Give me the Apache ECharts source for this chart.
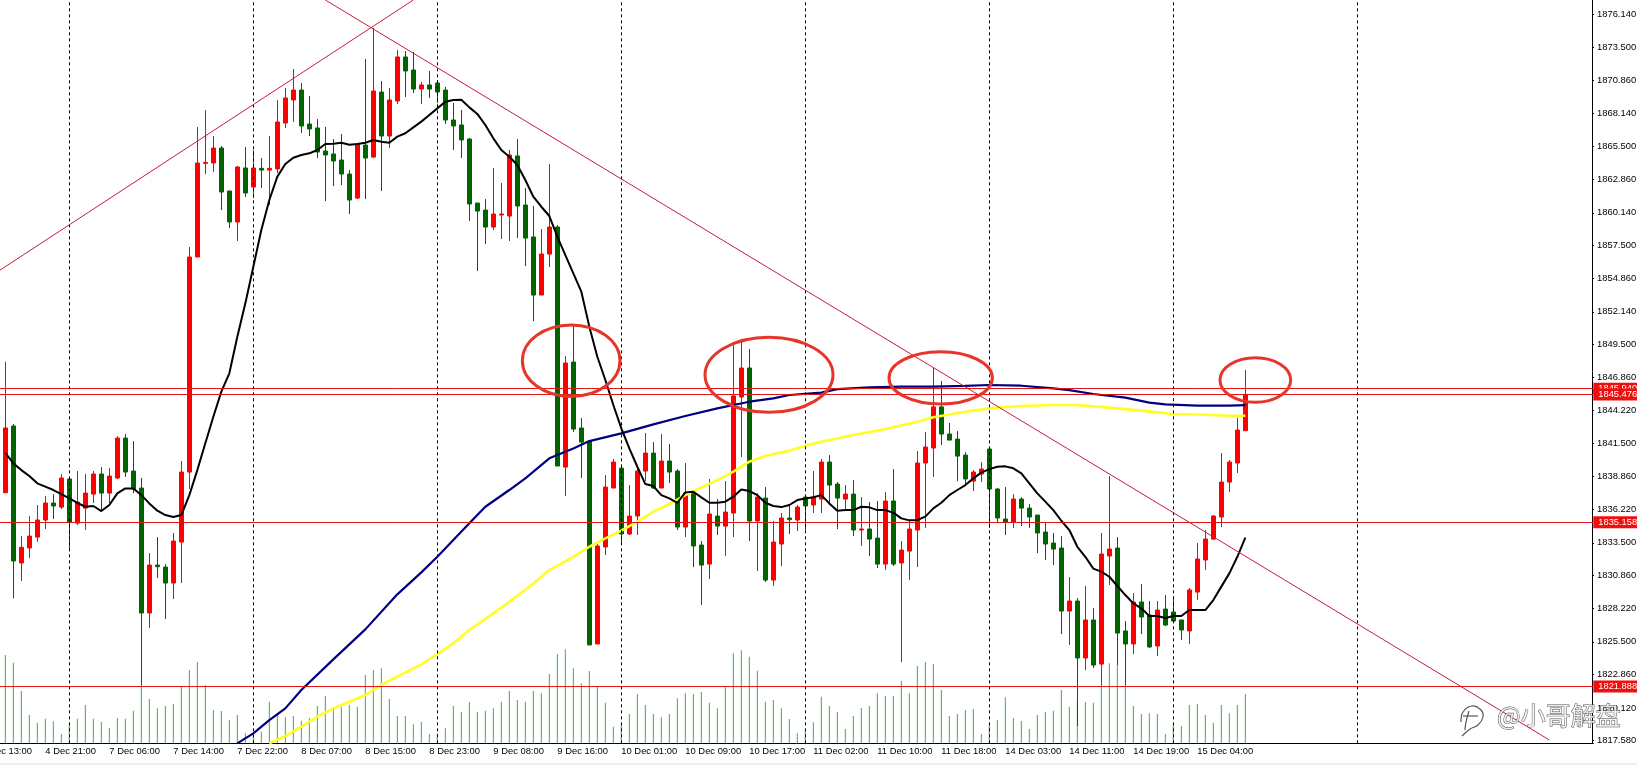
<!DOCTYPE html>
<html>
<head>
<meta charset="utf-8">
<title>XAUUSD H1</title>
<script src="https://cdn.jsdelivr.net/npm/echarts@6/dist/echarts.min.js"></script>
<style>
html,body{margin:0;padding:0;background:#fff;overflow:hidden;}
#chart{width:1637px;height:765px;}
</style>
</head>
<body>
<div id="chart"></div>
<script>
// time axis labels, one every 8 bars (first one starts 3 bars before the first candle)
var timeLabels = ['4 Dec 13:00','4 Dec 21:00','7 Dec 06:00','7 Dec 14:00','7 Dec 22:00','8 Dec 07:00','8 Dec 15:00','8 Dec 23:00','9 Dec 08:00','9 Dec 16:00','10 Dec 01:00','10 Dec 09:00','10 Dec 17:00','11 Dec 02:00','11 Dec 10:00','11 Dec 18:00','14 Dec 03:00','14 Dec 11:00','14 Dec 19:00','15 Dec 04:00'];
var leadBars = 3;
var totalBars = 202;

var priceTicks = [1876.14,1873.5,1870.86,1868.14,1865.5,1862.86,1860.14,1857.5,1854.86,1852.14,1849.5,1846.86,1844.22,1841.5,1838.86,1836.22,1833.5,1830.86,1828.22,1825.5,1822.86,1820.12,1817.58];

// open, close, low, high
var candles = [
[1837.54,1842.77,1837.54,1848.12],[1842.93,1832.03,1829.01,1843.09],[1831.87,1833.13,1830.41,1834.04],[1833.08,1834.04,1832.27,1835.66],
[1833.96,1835.34,1833.56,1836.55],[1835.34,1836.71,1834.61,1837.27],[1836.71,1836.47,1835.42,1837.43],[1836.38,1838.73,1836.22,1839.05],
[1838.65,1835.17,1832.83,1838.81],[1835.09,1836.79,1834.93,1839.29],[1836.30,1837.51,1834.53,1839.05],[1837.43,1839.05,1836.71,1839.29],
[1839.05,1837.51,1836.06,1839.61],[1837.51,1838.89,1836.71,1839.53],[1838.73,1841.95,1838.65,1842.11],[1841.95,1839.21,1838.81,1842.28],
[1839.29,1837.84,1837.51,1841.71],[1837.92,1827.83,1822.02,1838.73],[1827.83,1831.70,1826.62,1832.67],[1831.70,1831.57,1830.66,1833.96],
[1831.54,1830.25,1827.35,1831.78],[1830.25,1833.64,1828.96,1834.29],[1833.56,1839.21,1830.25,1840.10],[1839.21,1856.57,1837.84,1857.38],
[1856.57,1864.16,1856.57,1867.07],[1864.13,1864.21,1863.27,1868.44],[1864.16,1865.37,1863.43,1866.34],[1865.37,1861.82,1860.36,1865.53],
[1861.90,1859.40,1858.91,1861.90],[1859.40,1863.84,1857.86,1863.92],[1863.76,1861.74,1861.42,1865.45],[1862.22,1863.76,1861.33,1865.21],
[1863.73,1863.59,1862.14,1864.56],[1863.59,1863.73,1860.77,1866.34],[1863.68,1867.47,1863.35,1869.25],[1867.39,1869.41,1866.99,1870.22],
[1869.25,1870.05,1867.47,1871.75],[1870.05,1867.15,1866.58,1870.62],[1867.31,1866.91,1866.34,1869.57],[1866.99,1865.05,1864.56,1867.71],
[1865.13,1864.81,1861.09,1867.07],[1864.89,1864.32,1862.30,1866.10],[1864.40,1863.27,1862.38,1866.50],[1863.27,1861.17,1860.04,1863.59],
[1861.33,1865.69,1861.25,1865.77],[1865.61,1864.56,1861.25,1872.56],[1864.64,1869.97,1864.56,1875.06],[1869.89,1866.34,1861.90,1870.78],
[1866.34,1869.25,1865.37,1870.22],[1869.17,1872.72,1868.92,1873.28],[1872.72,1871.59,1869.49,1873.20],[1871.67,1870.13,1869.81,1873.12],
[1870.13,1870.46,1868.92,1870.70],[1870.46,1870.13,1869.41,1871.59],[1870.62,1869.89,1869.00,1870.86],[1870.05,1867.63,1867.31,1870.30],
[1867.63,1867.15,1865.21,1869.00],[1867.23,1866.02,1864.56,1868.44],[1866.10,1860.85,1859.48,1866.18],[1860.93,1860.28,1855.44,1860.93],
[1860.36,1858.99,1857.62,1861.25],[1858.99,1860.04,1858.75,1863.76],[1859.96,1860.04,1858.02,1862.55],[1859.88,1864.81,1857.86,1865.21],
[1864.73,1860.69,1858.10,1866.10],[1860.77,1858.10,1855.84,1862.14],[1858.19,1853.50,1851.40,1860.69],[1853.50,1856.81,1853.50,1858.83],
[1856.81,1858.99,1855.76,1864.08],[1858.99,1839.70,1839.70,1859.15],[1839.61,1848.01,1837.27,1848.58],[1848.09,1842.68,1842.44,1851.00],
[1842.77,1841.63,1838.73,1843.58],[1841.71,1825.25,1825.25,1841.79],[1825.33,1833.24,1825.33,1833.48],[1833.16,1838.00,1832.51,1838.97],
[1837.92,1840.02,1837.92,1840.26],[1839.53,1834.21,1833.32,1839.77],[1834.21,1835.66,1834.13,1838.16],[1835.66,1839.29,1834.13,1839.77],
[1839.29,1840.74,1838.48,1842.36],[1840.74,1837.92,1837.84,1841.63],[1837.92,1840.10,1837.92,1842.28],[1840.10,1839.21,1838.32,1841.47],
[1839.29,1834.77,1834.53,1839.45],[1834.77,1837.51,1833.96,1839.94],[1837.51,1833.24,1831.54,1837.76],[1833.32,1831.70,1828.48,1833.64],
[1831.78,1835.82,1830.57,1838.65],[1835.66,1834.85,1834.13,1837.03],[1834.85,1835.98,1832.43,1838.48],[1835.90,1845.35,1833.96,1849.47],
[1845.27,1847.61,1840.42,1849.71],[1847.61,1835.26,1833.64,1849.15],[1835.26,1837.19,1831.22,1837.51],[1837.11,1830.49,1830.33,1838.00],
[1830.49,1833.56,1830.01,1835.26],[1833.40,1835.50,1831.62,1835.90],[1835.50,1835.37,1834.21,1836.55],[1835.34,1836.38,1834.45,1836.55],
[1837.19,1836.47,1834.53,1837.27],[1836.55,1837.19,1835.90,1839.29],[1837.03,1840.02,1835.90,1840.26],[1840.02,1838.16,1836.55,1840.58],
[1838.24,1837.11,1834.61,1838.40],[1837.03,1837.43,1836.14,1838.16],[1837.43,1834.53,1834.04,1838.56],[1834.53,1834.61,1833.24,1837.19],
[1834.61,1833.80,1832.43,1836.79],[1833.88,1831.78,1831.46,1836.87],[1831.78,1836.87,1831.30,1837.60],[1836.87,1831.78,1831.62,1839.45],
[1831.87,1832.91,1823.87,1833.64],[1832.83,1834.61,1830.49,1835.34],[1834.53,1839.94,1831.54,1840.90],[1839.94,1841.23,1834.69,1842.44],
[1841.15,1844.47,1838.81,1847.61],[1844.47,1842.28,1841.39,1846.56],[1842.28,1841.79,1841.79,1843.17],[1841.87,1840.50,1838.48,1842.52],
[1840.58,1838.65,1838.24,1840.82],[1838.48,1839.21,1837.68,1839.37],[1839.05,1839.45,1838.40,1840.02],[1841.07,1837.84,1834.69,1841.15],
[1837.84,1835.50,1835.09,1837.92],[1835.42,1835.17,1834.13,1838.00],[1835.17,1837.03,1834.69,1837.43],[1837.03,1836.30,1834.85,1837.19],
[1836.30,1835.58,1834.69,1836.63],[1835.74,1834.29,1832.67,1835.74],[1834.37,1833.40,1832.11,1835.09],[1833.48,1832.99,1831.70,1834.29],
[1833.08,1827.99,1826.13,1834.04],[1827.99,1828.80,1825.25,1830.73],[1828.80,1824.20,1818.70,1829.04],[1824.20,1827.27,1823.23,1830.01],
[1827.27,1823.63,1823.39,1828.23],[1823.71,1832.59,1822.02,1834.29],[1832.43,1832.99,1830.09,1838.89],[1833.08,1826.21,1823.63,1833.96],
[1826.38,1825.33,1822.02,1827.18],[1825.33,1828.72,1824.52,1829.44],[1828.72,1827.51,1826.13,1830.17],[1827.67,1825.09,1825.01,1828.80],
[1825.17,1828.07,1824.36,1828.80],[1828.15,1826.86,1826.78,1829.28],[1827.91,1827.18,1827.18,1829.20],[1827.27,1826.46,1825.65,1827.27],
[1826.38,1829.69,1825.33,1829.85],[1829.52,1832.19,1828.88,1833.48],[1832.11,1833.80,1831.30,1834.53],[1833.80,1835.66,1833.72,1835.74],
[1835.58,1838.40,1834.77,1840.74],[1838.40,1840.02,1837.60,1840.18],[1839.94,1842.60,1839.13,1843.58],[1842.55,1845.48,1842.55,1847.45]
];

var tickVolume = [265,242,157,85,62,74,66,28,60,74,115,74,65,46,76,74,98,175,133,105,112,118,170,220,244,175,100,97,70,85,30,25,35,125,85,78,82,68,76,112,142,105,110,115,110,205,220,225,133,82,82,57,65,28,30,45,113,94,124,94,98,105,125,157,130,125,157,150,208,268,282,225,180,217,170,122,50,60,88,148,115,88,78,88,135,150,148,154,122,105,168,270,279,260,218,125,130,105,73,30,40,63,140,112,94,43,82,106,112,150,142,142,187,150,232,244,238,160,82,88,100,103,28,60,70,138,76,67,43,85,94,98,160,110,124,124,122,175,240,235,175,112,88,90,88,28,60,52,115,118,85,62,115,90,115,148];

var fastMa = [1840.77,1839.91,1839.37,1838.89,1838.30,1838.03,1837.76,1837.43,1837.08,1836.73,1836.41,1836.47,1836.06,1836.55,1837.49,1837.89,1837.89,1837.35,1836.68,1836.09,1835.74,1835.58,1835.74,1837.35,1839.37,1841.53,1843.68,1845.70,1847.18,1850.14,1852.83,1855.79,1858.75,1861.17,1863.06,1864.08,1864.59,1864.81,1864.94,1865.21,1865.69,1865.72,1865.80,1865.64,1865.69,1865.80,1866.02,1865.88,1865.80,1866.29,1866.56,1867.04,1867.50,1868.04,1868.57,1869.11,1869.25,1869.27,1868.65,1868.12,1867.23,1866.15,1865.21,1864.67,1864.00,1862.79,1861.44,1860.63,1859.88,1858.21,1856.73,1855.25,1853.77,1850.95,1848.52,1846.64,1844.62,1842.74,1841.12,1839.64,1838.24,1838.08,1837.35,1837.08,1836.73,1837.57,1837.62,1837.17,1836.73,1836.73,1836.82,1837.22,1837.81,1837.68,1837.35,1836.73,1836.47,1836.38,1836.55,1836.95,1837.08,1837.17,1837.35,1836.68,1836.09,1836.14,1836.14,1836.41,1836.36,1836.14,1836.14,1835.93,1835.47,1835.31,1835.34,1835.61,1836.28,1836.73,1837.35,1837.76,1838.16,1838.70,1839.16,1839.45,1839.64,1839.67,1839.51,1839.11,1838.30,1837.49,1836.82,1836.14,1835.28,1834.53,1833.18,1832.37,1831.41,1831.17,1830.76,1830.01,1829.28,1828.61,1828.21,1827.59,1827.59,1827.43,1827.59,1827.59,1828.07,1828.07,1828.07,1828.88,1829.96,1831.03,1832.37,1833.91];

// [bar, value] readings of the two slow averages
var navyMa = [[29,1817.31],[31,1818.11],[33,1819.19],[35,1820.13],[37,1821.61],[41,1824.09],[45,1826.51],[49,1829.34],[52,1831.11],[54,1832.37],[56,1833.72],[58,1835.07],[60,1836.41],[63,1837.76],[65,1838.70],[68,1840.32],[71,1841.12],[73,1841.71],[77,1842.33],[81,1843.06],[85,1843.74],[89,1844.35],[93,1844.89],[96,1845.16],[98,1845.43],[102,1845.62],[104,1845.91],[108,1846.05],[112,1846.10],[116,1846.10],[120,1846.16],[123,1846.24],[127,1846.18],[131,1845.97],[133,1845.83],[136,1845.51],[140,1845.22],[143,1844.81],[145,1844.68],[149,1844.57],[153,1844.57],[155,1844.62]];
var yellowMa = [[33,1817.31],[35,1817.90],[37,1818.65],[39,1819.46],[41,1820.13],[43,1820.67],[45,1821.21],[47,1822.02],[49,1822.69],[52,1823.69],[54,1824.52],[56,1825.38],[58,1826.46],[61,1827.80],[63,1828.74],[66,1830.22],[68,1831.30],[71,1832.37],[73,1833.18],[75,1833.86],[77,1834.48],[79,1835.20],[81,1836.01],[83,1836.63],[85,1837.35],[87,1837.97],[89,1838.56],[91,1839.24],[93,1840.05],[95,1840.50],[98,1840.94],[100,1841.34],[102,1841.66],[106,1842.20],[110,1842.68],[114,1843.28],[116,1843.63],[120,1844.08],[123,1844.35],[127,1844.54],[131,1844.62],[134,1844.62],[138,1844.41],[142,1844.17],[146,1843.90],[150,1843.84],[153,1843.76],[155,1843.76]];

var levels = [1845.94,1845.476,1835.158,1821.888];
var separators = [8,31,54,77,100,123,146,169];
// [bar, price] pairs of both ends
var trendLines = [
    [[-3,1854.53],[51,1877.32]],
    [[40,1877.32],[193,1817.58]]
];
// centre bar, centre price, half width in bars, half height in price
var circles = [
    [70.73,1848.20,6.1,2.89],
    [95.46,1847.06,8.0,3.03],
    [116.92,1846.81,6.46,2.11],
    [156.25,1846.64,4.42,1.80]
];

var chart = echarts.init(document.getElementById('chart'));
var uiFont = '"Liberation Sans", Arial, sans-serif';

var categories = [];
for (var i = 0; i < totalBars; i++) {
    categories.push(i % 8 === 0 && timeLabels[i / 8] ? timeLabels[i / 8] : '');
}
function hasLabel(index) {
    return categories[index] !== '';
}
function padBars(list, blank) {
    var out = [];
    for (var n = 0; n < leadBars; n++) out.push(blank);
    return out.concat(list);
}
function shiftPairs(list) {
    return list.map(function (p) {
        return [p[0] + leadBars, p[1]];
    });
}
function logoStroke(points) {
    return {type: 'polyline', silent: true, z: 20, shape: {points: points, smooth: 0.4}, style: {fill: 'none', stroke: '#555', lineWidth: 1.2}};
}

var option = {
    animation: false,
    backgroundColor: '#fff',
    // outerBoundsMode off: the first time label and the price labels must stay where they are
    grid: {left: -22.67, top: 0, width: 1616, height: 743.33, outerBoundsMode: 'none'},
    xAxis: [
        {
            type: 'category',
            data: categories,
            axisLine: {lineStyle: {color: '#000', width: 1}},
            axisTick: {alignWithLabel: true, interval: hasLabel, length: 2, lineStyle: {color: '#000'}},
            axisLabel: {interval: hasLabel, align: 'left', margin: 4, color: '#000', fontFamily: uiFont, fontSize: 9.4},
            splitLine: {show: false}
        },
        {type: 'value', show: false, min: -leadBars - 0.5, max: totalBars - leadBars - 0.5}
    ],
    yAxis: [
        {
            type: 'value',
            position: 'right',
            offset: -1.33,
            min: 1817.31,
            max: 1877.32,
            axisLine: {show: true, onZero: false, lineStyle: {color: '#000', width: 1}},
            axisTick: {show: true, length: 2, customValues: priceTicks, lineStyle: {color: '#000'}},
            axisLabel: {
                margin: 5,
                customValues: priceTicks,
                color: '#000',
                fontFamily: uiFont,
                fontSize: 9.4,
                formatter: function (v) { return v.toFixed(3); }
            },
            splitLine: {show: false}
        },
        {type: 'value', show: false, min: 0, max: 2230}
    ],
    graphic: [
        {type: 'text', x: 0, y: -7, silent: true, style: {text: '12  1842.570 1847.560 1839.700 1845.310', fill: '#222', font: '9.3px ' + uiFont}},
        {type: 'rect', silent: true, shape: {x: 0, y: 763, width: 1637, height: 2}, style: {fill: '#eeeeee'}},
        logoStroke([[1461,722],[1463,712],[1472,706],[1481,710],[1483,717],[1478,725],[1470,729],[1462,736]]),
        logoStroke([[1469,711],[1466,722],[1465,730]]),
        logoStroke([[1463,716],[1478,716]]),
        {type: 'text', x: 1497, y: 703, silent: true, z: 20, style: {text: '@小哥解盘', fill: 'rgba(255,255,255,0.75)', stroke: '#555', lineWidth: 0.9, font: '25px "Noto Sans CJK SC", sans-serif'}}
    ],
    series: [
        {
            name: 'volume',
            type: 'bar',
            yAxisIndex: 1,
            barWidth: 1,
            itemStyle: {color: '#3fae3f'},
            data: padBars(tickVolume, null),
            markLine: {
                silent: true,
                symbol: 'none',
                label: {show: false},
                lineStyle: {color: '#000', type: [3, 3], width: 1},
                data: separators.map(function (b) {
                    return {xAxis: b + leadBars};
                })
            }
        },
        {
            name: 'price',
            type: 'candlestick',
            barWidth: 4,
            itemStyle: {color: '#ff0000', color0: '#006400', borderColor: '#ff0000', borderColor0: '#006400', borderWidth: 1},
            data: padBars(candles, ['-', '-', '-', '-'])
        },
        {
            name: 'ma200',
            type: 'line',
            showSymbol: false,
            lineStyle: {color: '#ffff22', width: 2.6},
            data: shiftPairs(yellowMa)
        },
        {
            name: 'ma100',
            type: 'line',
            showSymbol: false,
            lineStyle: {color: '#000080', width: 2.2},
            data: shiftPairs(navyMa)
        },
        {
            name: 'ma20',
            type: 'line',
            showSymbol: false,
            lineStyle: {color: '#000', width: 2},
            data: padBars(fastMa, null),
            markLine: {
                silent: true,
                symbol: 'none',
                precision: 3,
                data: trendLines.map(function (t) {
                    return [
                        {coord: [t[0][0] + leadBars, t[0][1]], lineStyle: {color: '#c41e3a', type: 'solid', width: 1}, label: {show: false}},
                        {coord: [t[1][0] + leadBars, t[1][1]]}
                    ];
                }).concat(levels.map(function (v) {
                    return {
                        yAxis: v,
                        lineStyle: {color: '#e01515', type: 'solid', width: 1},
                        label: {
                            show: true,
                            position: 'end',
                            distance: 0,
                            formatter: function () { return v.toFixed(3); },
                            color: '#fff',
                            fontFamily: uiFont,
                            fontSize: 9.3,
                            lineHeight: 10,
                            backgroundColor: '#f00f0f',
                            padding: [1, 3, 1, 5]
                        }
                    };
                }))
            }
        },
        {
            name: 'circles',
            type: 'custom',
            xAxisIndex: 1,
            yAxisIndex: 0,
            encode: {x: 0, y: 1},
            silent: true,
            z: 10,
            renderItem: function (params, api) {
                var c = api.coord([api.value(0), api.value(1)]);
                var e = api.coord([api.value(0) + api.value(2), api.value(1) + api.value(3)]);
                return {
                    type: 'ellipse',
                    shape: {cx: c[0], cy: c[1], rx: e[0] - c[0], ry: c[1] - e[1]},
                    style: {fill: 'none', stroke: '#e8352a', lineWidth: 3}
                };
            },
            data: circles
        }
    ]
};
chart.setOption(option);
</script>
</body>
</html>
